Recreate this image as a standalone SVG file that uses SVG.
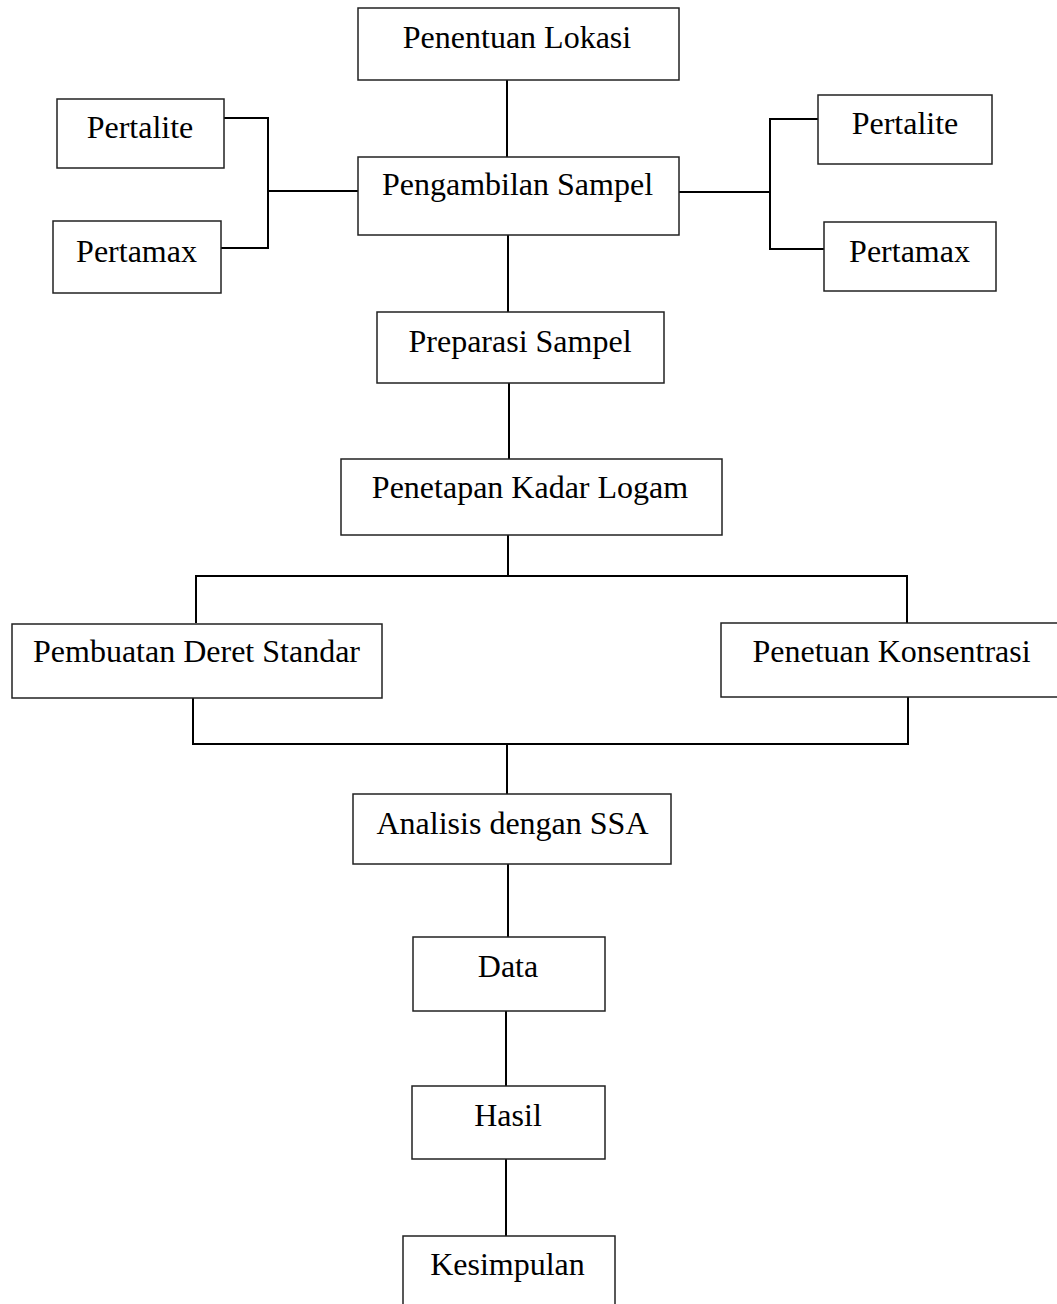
<svg xmlns="http://www.w3.org/2000/svg" width="1057" height="1304" viewBox="0 0 1057 1304">
<style>
.box{fill:#fff;stroke:#222;stroke-width:1.5}
.lbl{font-family:"Liberation Serif","Times New Roman",serif;font-size:32px;fill:#000;text-anchor:middle}
.conn{fill:none;stroke:#000;stroke-width:2}
</style>
<rect width="1057" height="1304" fill="#fff"/>
<g id="connectors">
<line class="conn" x1="507" y1="80" x2="507" y2="157"/>
<line class="conn" x1="508" y1="235" x2="508" y2="312"/>
<line class="conn" x1="509" y1="383" x2="509" y2="459"/>
<polyline class="conn" points="224,118 268,118 268,248 221,248"/>
<line class="conn" x1="268" y1="191" x2="358" y2="191"/>
<line class="conn" x1="679" y1="192" x2="770" y2="192"/>
<polyline class="conn" points="818,119 770,119 770,249 824,249"/>
<line class="conn" x1="508" y1="535" x2="508" y2="576"/>
<polyline class="conn" points="196,623 196,576 907,576 907,623"/>
<polyline class="conn" points="193,698 193,744 908,744 908,697"/>
<line class="conn" x1="507" y1="744" x2="507" y2="794"/>
<line class="conn" x1="508" y1="864" x2="508" y2="937"/>
<line class="conn" x1="506" y1="1011" x2="506" y2="1086"/>
<line class="conn" x1="506" y1="1159" x2="506" y2="1236"/>
</g>
<g id="penentuan-lokasi"><rect class="box" x="358" y="8" width="321" height="72"/><text class="lbl" x="517" y="48">Penentuan Lokasi</text></g>
<g id="pengambilan-sampel"><rect class="box" x="358" y="157" width="321" height="78"/><text class="lbl" x="517.5" y="195">Pengambilan Sampel</text></g>
<g id="pertalite-left"><rect class="box" x="57" y="99" width="167" height="69"/><text class="lbl" x="140" y="138">Pertalite</text></g>
<g id="pertamax-left"><rect class="box" x="53" y="221" width="168" height="72"/><text class="lbl" x="136.5" y="262">Pertamax</text></g>
<g id="pertalite-right"><rect class="box" x="818" y="95" width="174" height="69"/><text class="lbl" x="905" y="134">Pertalite</text></g>
<g id="pertamax-right"><rect class="box" x="824" y="222" width="172" height="69"/><text class="lbl" x="909.5" y="262">Pertamax</text></g>
<g id="preparasi-sampel"><rect class="box" x="377" y="312" width="287" height="71"/><text class="lbl" x="520" y="352">Preparasi Sampel</text></g>
<g id="penetapan-kadar-logam"><rect class="box" x="341" y="459" width="381" height="76"/><text class="lbl" x="530" y="498">Penetapan Kadar Logam</text></g>
<g id="pembuatan-deret-standar"><rect class="box" x="12" y="624" width="370" height="74"/><text class="lbl" x="196.5" y="662">Pembuatan Deret Standar</text></g>
<g id="penetuan-konsentrasi"><rect class="box" x="721" y="623" width="345" height="74"/><text class="lbl" x="891.5" y="662">Penetuan Konsentrasi</text></g>
<g id="analisis-ssa"><rect class="box" x="353" y="794" width="318" height="70"/><text class="lbl" x="512.5" y="834">Analisis dengan SSA</text></g>
<g id="data"><rect class="box" x="413" y="937" width="192" height="74"/><text class="lbl" x="508" y="977">Data</text></g>
<g id="hasil"><rect class="box" x="412" y="1086" width="193" height="73"/><text class="lbl" x="508" y="1126">Hasil</text></g>
<g id="kesimpulan"><rect class="box" x="403" y="1236" width="212" height="75"/><text class="lbl" x="507.5" y="1275">Kesimpulan</text></g>
</svg>
